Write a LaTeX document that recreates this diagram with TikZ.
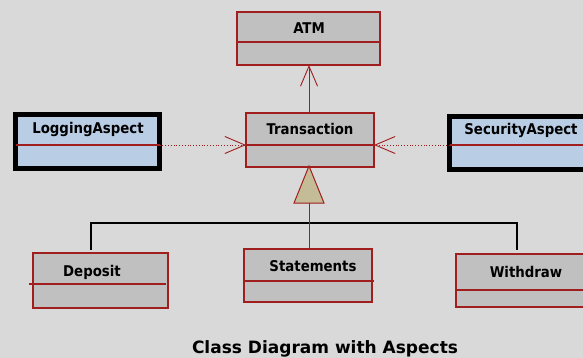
\documentclass[tikz,border=0pt]{standalone}
\usepackage{fontspec}
\setmainfont{DejaVu Sans}
\newfontfamily\classfont{DejaVu Sans Condensed}
\usetikzlibrary{arrows.meta}
\definecolor{bggray}{RGB}{217,217,217}
\definecolor{boxred}{RGB}{160,30,30}
\definecolor{boxgray}{RGB}{192,192,192}
\definecolor{aspectblue}{RGB}{185,205,229}
\definecolor{gentan}{RGB}{196,188,150}
\begin{document}
\begin{tikzpicture}[x=1pt,y=-1pt,
  classbox/.style={draw=boxred, line width=1.1pt, fill=boxgray, inner sep=0pt, outer sep=0pt},
  aspectbox/.style={draw=black, line width=5pt, fill=aspectblue, inner sep=0pt, outer sep=0pt},
  divider/.style={draw=boxred, line width=1.1pt},
  lbl/.style={font=\classfont\bfseries\fontsize{14.8}{17}\selectfont, inner sep=0pt},
  opentip/.style={-{Straight Barb[length=20pt,width=17pt,line width=0.9pt]}},
  assoc/.style={draw=boxred, line width=0.9pt, opentip},
  aspectlink/.style={draw=boxred, line width=0.8pt, dotted, opentip},
  bus/.style={draw=black, line width=2pt}]
\fill[bggray] (0,0) rectangle (583,358);
\useasboundingbox (0,0) rectangle (583,358);
\clip (0,0) rectangle (583,358);

% classes
\node[classbox, minimum width=143pt, minimum height=53pt] (atm) at (308.5,38.5) {};
\draw[divider] (atm.west |- 0,42) -- (atm.east |- 0,42);
\node[lbl] (atmname) at (309,28) {ATM};

\node[classbox, minimum width=128pt, minimum height=54pt] (trans) at (310,140) {};
\draw[divider] (trans.west |- 0,145) -- (trans.east |- 0,145);
\node[lbl] (transname) at (310,129) {Transaction};

\node[aspectbox, minimum width=144pt, minimum height=54pt] (log) at (87.5,141.5) {};
\draw[divider] (16,145) -- (log.east |- 0,145);
\node[lbl] (logname) at (88,129) {LoggingAspect};

\node[aspectbox, minimum width=144pt, minimum height=53pt] (sec) at (521.5,143) {};
\draw[divider] (sec.west |- 0,145) -- (583,145);
\node[lbl] (secname) at (521,130) {SecurityAspect};

\node[classbox, minimum width=135pt, minimum height=55pt] (dep) at (100.5,280.5) {};
\draw[divider] (29,284) -- (166,284);
\node[lbl] (depname) at (92,272) {Deposit};

\node[classbox, minimum width=128pt, minimum height=53pt] (stmt) at (308,275.5) {};
\draw[divider] (stmt.west |- 0,281) -- (374,281);
\node[lbl] (stmtname) at (313,266) {Statements};

\node[classbox, minimum width=134pt, minimum height=53pt] (wd) at (523,280.5) {};
\draw[divider] (wd.west |- 0,290) -- (wd.east |- 0,290);
\node[lbl] (wdname) at (526,272) {Withdraw};

% association to ATM
\draw[assoc] (trans.north -| 309,0) -- (atm.south -| 309,0);

% aspects advising Transaction
\draw[aspectlink] (log.east |- 0,145) -- (trans.west |- 0,145);
\draw[aspectlink] (sec.west |- 0,145) -- (trans.east |- 0,145);

% generalization
\coordinate (apex) at (309,166);
\coordinate (gen) at (309,203);
\coordinate (busL) at (91,223);
\coordinate (busR) at (517,223);
\draw[bus] (busL |- 0,250) -- (busL) -- (busR) -- (busR |- 0,250);
\draw[boxred, line width=1pt] (gen) -- (stmt.north -| gen);
\draw[boxred, line width=1pt, fill=gentan, line join=miter] (apex) -- (324,203) -- (294,203) -- cycle;

% caption
\node[font=\bfseries\fontsize{17}{20}\selectfont, inner sep=0pt] (caption) at (325,349) {Class Diagram with Aspects};
\end{tikzpicture}
\end{document}
